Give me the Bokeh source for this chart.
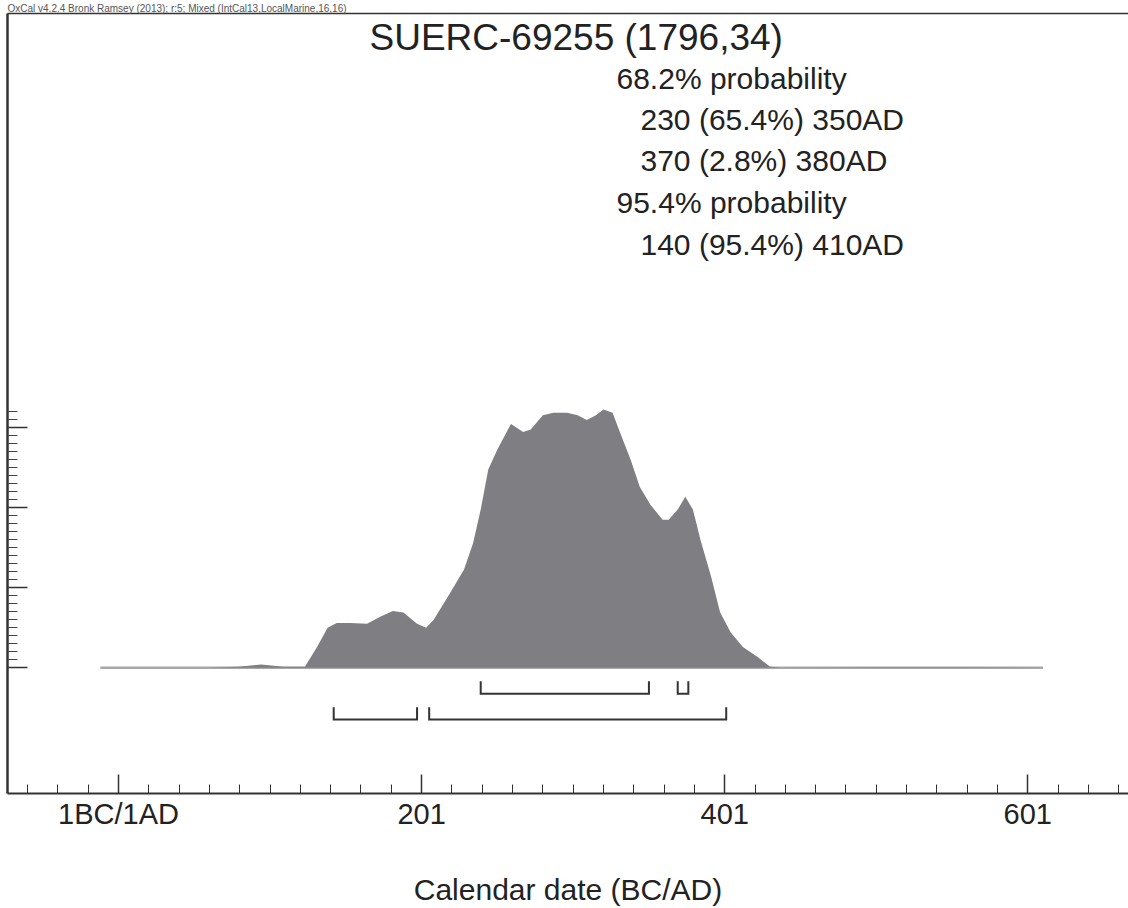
from bokeh.plotting import figure
from bokeh.models import Range1d, FixedTicker, LinearAxis, CustomLabelingPolicy
from bokeh.core.properties import value
from bokeh.embed import file_html
from bokeh.resources import INLINE

# ---------------- data ----------------
header_text = "OxCal v4.2.4 Bronk Ramsey (2013); r:5; Mixed (IntCal13,LocalMarine,16,16)"
sample_title = "SUERC-69255 (1796,34)"

years = [-11, 60, 80, 95, 110, 124, 132, 139, 145, 154, 165, 174, 182, 189, 198,
         204, 209, 220, 229, 235, 240, 245, 251, 258, 260, 268, 273, 281, 288, 297,
         304, 310, 316, 321, 327, 332, 339, 345, 352, 360, 364, 370, 375, 380, 385,
         392, 398, 405, 413, 423, 431, 438, 500, 560, 611]
density = [0, 0, 0.01, 0.04, 0.01, 0.01, 0.26, 0.50, 0.56, 0.56, 0.55, 0.64, 0.71, 0.69, 0.55,
           0.50, 0.60, 0.94, 1.23, 1.56, 1.98, 2.48, 2.73, 2.98, 3.05, 2.95, 2.98, 3.16, 3.19, 3.19,
           3.16, 3.10, 3.16, 3.23, 3.19, 2.94, 2.60, 2.26, 2.04, 1.85, 1.85, 1.98, 2.14, 1.98, 1.60,
           1.14, 0.69, 0.44, 0.26, 0.13, 0.01, 0, 0.005, 0.005, 0]

range68_from = [240, 370]
range68_to = [351, 377]
range95_from = [143, 206]
range95_to = [198, 402]

prob_headers = ["68.2% probability", "95.4% probability"]
prob_ranges = ["230 (65.4%) 350AD", "370 (2.8%) 380AD", "140 (95.4%) 410AD"]

x_major_ticks = [1, 201, 401, 601]
x_tick_labels = ["1BC/1AD", "201", "401", "601"]
x_axis_title = "Calendar date (BC/AD)"

# ---------------- layout (pixel geometry of the page) ----------------
W, H = 1128, 908
TOP, BOTTOM, LEFT = 13, 114, 7
PX_PER_YEAR = 1.5155
YEAR1_X = 118.0
BASE_Y = 668.0
PX_PER_UNIT = 80.0

def yr(px):
    return 1 + (px - YEAR1_X) / PX_PER_YEAR

def val(py):
    return (BASE_Y - py) / PX_PER_UNIT

def text_y(baseline_px, size_px):
    # bokeh draws the text a little lower than the nominal baseline
    return val(baseline_px - 0.33 * size_px)

FONT = "Liberation Sans"
TXT = "#222222"
AXC = "#333333"

p = figure(width=W, height=H, output_backend="svg", toolbar_location=None,
           x_range=Range1d(yr(LEFT), yr(W)),
           y_range=Range1d(val(H - BOTTOM), val(TOP)),
           x_axis_location=None, y_axis_location=None,
           min_border_left=LEFT, min_border_right=0,
           min_border_top=TOP, min_border_bottom=BOTTOM,
           outline_line_color=None, background_fill_color="white",
           border_fill_color="white")
p.xgrid.visible = False
p.ygrid.visible = False

# header as title
p.title.text = header_text
p.title.text_font = FONT
p.title.text_font_size = "10px"
p.title.text_font_style = "normal"
p.title.text_color = "#555555"
p.title.align = "left"
p.title.standoff = 0

hide_labels = CustomLabelingPolicy(
    code="const all = [...indices]; for (const i of all) { indices.unset(i) }; return indices")

# top frame line as an axis without ticks
top_axis = LinearAxis(ticker=FixedTicker(ticks=[]), major_label_text_font_size="1px",
                      major_tick_in=0, major_tick_out=0, minor_tick_in=0, minor_tick_out=0,
                      major_label_standoff=0, axis_line_width=1.5, axis_line_color=AXC)
p.add_layout(top_axis, "above")

# bottom x axis
xminor = [t for t in range(-59, 662, 20) if t not in x_major_ticks]
xa = LinearAxis(ticker=FixedTicker(ticks=x_major_ticks, minor_ticks=xminor))
xa.major_label_overrides = {t: lab for t, lab in zip(x_major_ticks, x_tick_labels)}
xa.major_tick_in = 19
xa.major_tick_out = 0
xa.minor_tick_in = 9
xa.minor_tick_out = 0
xa.major_tick_line_width = 1.5
xa.minor_tick_line_width = 1
xa.major_tick_line_color = AXC
xa.minor_tick_line_color = AXC
xa.axis_line_width = 2
xa.axis_line_color = AXC
xa.major_label_text_font = FONT
xa.major_label_text_font_size = "29px"
xa.major_label_text_color = TXT
xa.major_label_standoff = 4
xa.axis_label = x_axis_title
xa.axis_label_text_font = FONT
xa.axis_label_text_font_size = "30px"
xa.axis_label_text_font_style = "normal"
xa.axis_label_text_color = TXT
xa.axis_label_standoff = 40
p.add_layout(xa, "below")

# left y axis (probability ticks, labels suppressed)
yminor = [round(0.1 * i, 1) for i in range(1, 33) if i % 10]
ya = LinearAxis(ticker=FixedTicker(ticks=[0, 1, 2, 3], minor_ticks=yminor))
ya.major_tick_in = 20
ya.major_tick_out = 0
ya.minor_tick_in = 10
ya.minor_tick_out = 0
ya.major_tick_line_width = 1.5
ya.minor_tick_line_width = 1
ya.major_tick_line_color = AXC
ya.minor_tick_line_color = "#444444"
ya.major_label_text_font_size = "1px"
ya.major_label_policy = hide_labels
ya.major_label_standoff = 0
ya.axis_line_width = 2.5
ya.axis_line_color = AXC
p.add_layout(ya, "left")

# baseline and distribution
p.line(x=[min(years), max(years)], y=[0, 0], line_color="#a8a8a8", line_width=2.5)
p.varea(x=years, y1=[0] * len(years), y2=density, fill_color="#7f7f83")

# range brackets
lvl68, lvl95, hook = val(694), val(720), 0.155
xs68 = [[a, a, b, b] for a, b in zip(range68_from, range68_to)]
ys68 = [[lvl68 + hook, lvl68, lvl68, lvl68 + hook] for _ in range68_from]
xs95 = [[a, a, b, b] for a, b in zip(range95_from, range95_to)]
ys95 = [[lvl95 + hook, lvl95, lvl95, lvl95 + hook] for _ in range95_from]
p.multi_line(xs=xs68 + xs95, ys=ys68 + ys95, line_color=AXC, line_width=2,
             line_join="miter")

# texts
p.text(x=[yr(369)], y=[text_y(49, 37)], text=[sample_title], text_font=value(FONT),
       text_font_size="37px", text_color=TXT, text_baseline="alphabetic", text_align="left")
p.text(x=[yr(616)] * 2, y=[text_y(88, 30), text_y(212, 30)], text=prob_headers,
       text_font=value(FONT), text_font_size="30px", text_color=TXT,
       text_baseline="alphabetic", text_align="left")
p.text(x=[yr(640)] * 3, y=[text_y(129, 30), text_y(170, 30), text_y(254, 30)],
       text=prob_ranges, text_font=value(FONT), text_font_size="30px", text_color=TXT,
       text_baseline="alphabetic", text_align="left")

open("out.html", "w").write(file_html(p, INLINE))
